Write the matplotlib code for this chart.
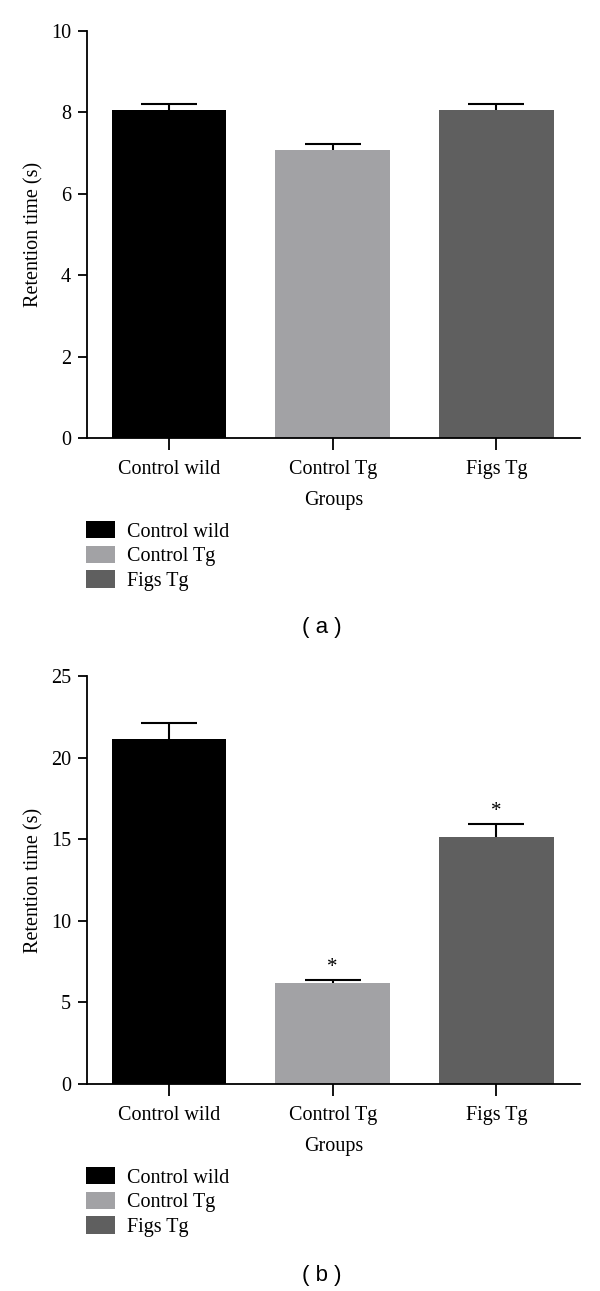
import numpy as np
import matplotlib.pyplot as plt
from matplotlib.patches import Patch

groups = ["Control wild", "Control Tg", "Figs Tg"]
colors = ["#000000", "#a2a2a5", "#5f5f5f"]

# panel (a)
means_a = [8.07, 7.07, 8.07]
sem_a = [0.14, 0.15, 0.14]

# panel (b)
means_b = [21.15, 6.17, 15.15]
sem_b = [0.95, 0.22, 0.78]
stars_b = ["", "*", "*"]

plt.rcParams['font.family'] = 'Liberation Serif'
plt.rcParams['font.size'] = 14.5

W, H = 600, 1291
fig = plt.figure(figsize=(W / 100, H / 100), dpi=100)


def panel(top_px, bottom_px, means, sem, ymax, ystep, stars, tag, leg_top, tag_y):
    ax = fig.add_axes([87 / W, 1 - bottom_px / H, 493 / W, (bottom_px - top_px) / H])
    x = np.arange(len(groups))
    bars = ax.bar(x, means, width=0.7, color=colors,
                  yerr=[np.zeros(len(means)), sem], capsize=20,
                  error_kw=dict(elinewidth=1.5, capthick=1.5, ecolor='black'))
    # only the upper caps are shown
    caps = bars.errorbar.lines[1]
    caps[0].set_visible(False)
    for i, s in enumerate(stars):
        if s:
            ax.annotate(s, xy=(x[i], means[i] + sem[i]), xytext=(0, 2),
                        textcoords='offset points', ha='center', va='bottom', fontsize=15)
    ax.set_xlim(-0.5, 2.51)
    ax.set_ylim(0, ymax)
    ax.set_yticks(np.arange(0, ymax + 1, ystep))
    ax.set_xticks(x)
    ax.set_xticklabels(groups)
    for sp in ['top', 'right']:
        ax.spines[sp].set_visible(False)
    for sp in ['left', 'bottom']:
        ax.spines[sp].set_linewidth(1.3)
    ax.tick_params(axis='y', length=6.5, width=1.3, pad=5, labelsize=14.5)
    ax.tick_params(axis='x', length=8.6, width=1.3, pad=7, labelsize=14.5)
    ax.set_ylabel("Retention time (s)", fontsize=14.5)
    ax.yaxis.set_label_coords(-0.088, 0.5)
    ax.set_xlabel("Groups", fontsize=14.5)
    ax.xaxis.set_label_coords(0.5, -0.13)

    handles = [Patch(facecolor=c) for c in colors]
    fig.legend(handles, groups, loc='upper left', bbox_to_anchor=(86 / W, 1 - leg_top / H),
               frameon=False, borderpad=0, borderaxespad=0, handlelength=1.45,
               handleheight=0.95, handletextpad=0.6, labelspacing=0.2, fontsize=14.5)
    fig.text(322 / W, 1 - tag_y / H, tag, ha='center', va='center',
             family='Liberation Sans', fontsize=16)


panel(31, 438, means_a, sem_a, 10, 2, ["", "", ""], "( a )", 521, 628)
panel(676, 1084, means_b, sem_b, 25, 5, stars_b, "( b )", 1167, 1275)

fig.savefig("out.png", dpi=100)
